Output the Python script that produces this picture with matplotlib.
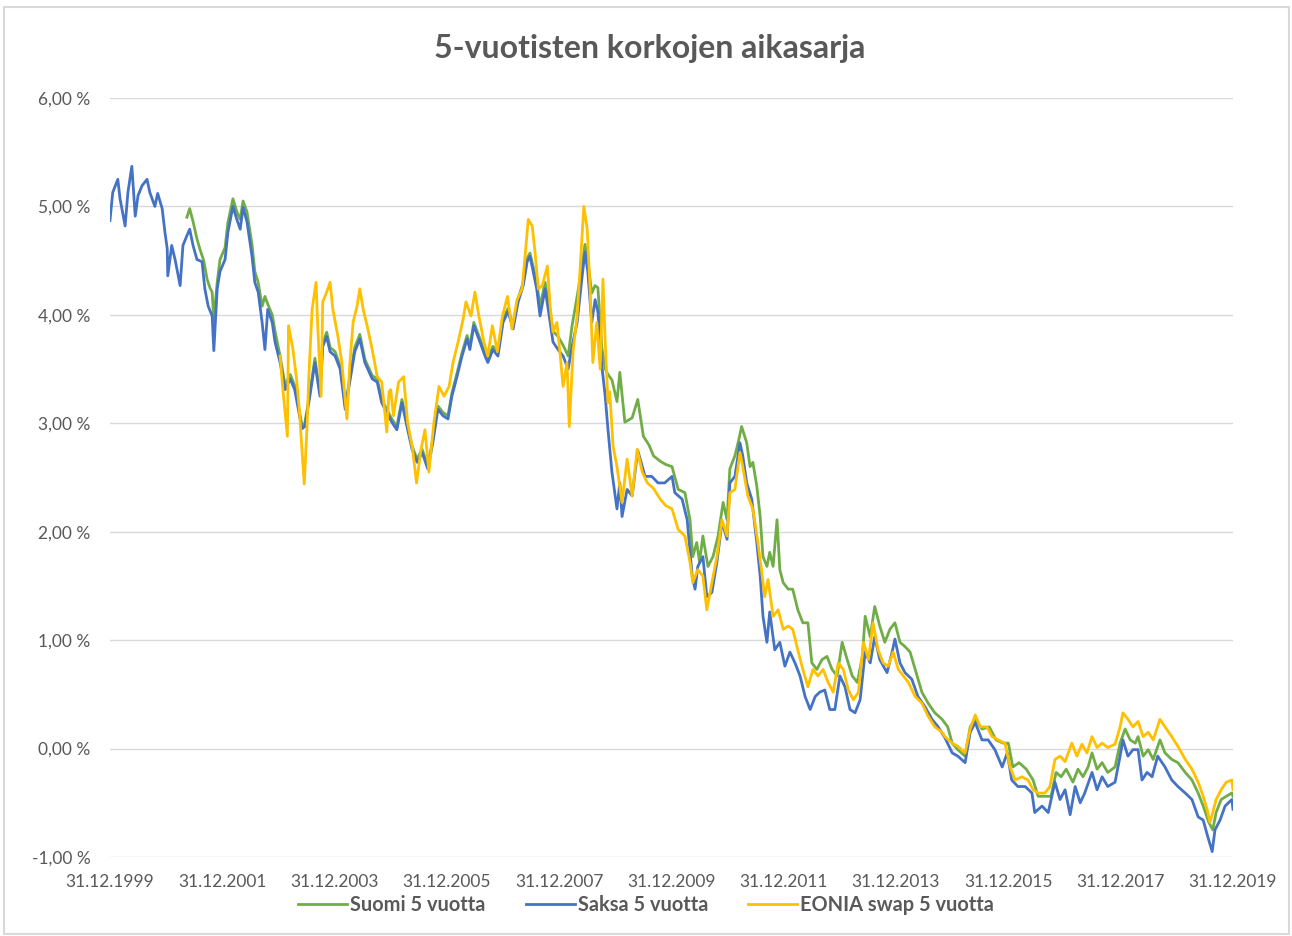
import matplotlib
matplotlib.use("Agg")
import matplotlib.pyplot as plt
from matplotlib.patches import Rectangle

# vuodet desimaalilukuina, arvot prosentteina
saksa_t = [2000.00, 2000.05, 2000.14, 2000.18, 2000.27, 2000.32, 2000.39, 2000.45, 2000.50, 2000.57,
           2000.66, 2000.71, 2000.80, 2000.85, 2000.93, 2000.98, 2001.02, 2001.03, 2001.10, 2001.16,
           2001.25, 2001.30, 2001.37, 2001.42, 2001.48, 2001.55, 2001.64, 2001.69, 2001.75, 2001.82,
           2001.85, 2001.91, 2001.96, 2002.05, 2002.10, 2002.19, 2002.26, 2002.32, 2002.37, 2002.44,
           2002.53, 2002.58, 2002.64, 2002.71, 2002.76, 2002.81, 2002.89, 2002.94, 2003.03, 2003.12,
           2003.21, 2003.29, 2003.42, 2003.47, 2003.56, 2003.65, 2003.74, 2003.79, 2003.86, 2003.92,
           2004.01, 2004.10, 2004.19, 2004.27, 2004.36, 2004.45, 2004.54, 2004.67, 2004.76, 2004.84,
           2004.93, 2005.02, 2005.11, 2005.20, 2005.29, 2005.38, 2005.47, 2005.56, 2005.66, 2005.75,
           2005.84, 2005.93, 2006.02, 2006.09, 2006.18, 2006.27, 2006.36, 2006.41, 2006.48, 2006.59,
           2006.68, 2006.73, 2006.82, 2006.91, 2007.00, 2007.09, 2007.18, 2007.27, 2007.36, 2007.43,
           2007.48, 2007.53, 2007.60, 2007.66, 2007.75, 2007.84, 2007.89, 2007.98, 2008.07, 2008.16,
           2008.23, 2008.32, 2008.41, 2008.46, 2008.51, 2008.58, 2008.64, 2008.69, 2008.76, 2008.82,
           2008.87, 2008.94, 2009.03, 2009.08, 2009.12, 2009.21, 2009.30, 2009.40, 2009.53, 2009.65,
           2009.76, 2009.88, 2010.01, 2010.06, 2010.19, 2010.28, 2010.37, 2010.42, 2010.47, 2010.56,
           2010.63, 2010.72, 2010.81, 2010.90, 2010.99, 2011.04, 2011.13, 2011.22, 2011.27, 2011.34,
           2011.43, 2011.52, 2011.58, 2011.63, 2011.70, 2011.75, 2011.84, 2011.93, 2012.02, 2012.11,
           2012.20, 2012.29, 2012.38, 2012.47, 2012.56, 2012.64, 2012.73, 2012.82, 2012.91, 2013.00,
           2013.09, 2013.18, 2013.27, 2013.36, 2013.45, 2013.54, 2013.62, 2013.71, 2013.84, 2013.93,
           2013.98, 2014.07, 2014.16, 2014.28, 2014.39, 2014.51, 2014.64, 2014.75, 2014.87, 2015.00,
           2015.10, 2015.23, 2015.32, 2015.41, 2015.53, 2015.64, 2015.76, 2015.89, 2015.98, 2016.06,
           2016.17, 2016.30, 2016.42, 2016.47, 2016.60, 2016.71, 2016.83, 2016.92, 2017.01, 2017.10,
           2017.19, 2017.28, 2017.36, 2017.49, 2017.58, 2017.67, 2017.77, 2017.90, 2017.99, 2018.04,
           2018.13, 2018.22, 2018.31, 2018.38, 2018.47, 2018.56, 2018.66, 2018.79, 2018.91, 2019.02,
           2019.15, 2019.27, 2019.38, 2019.47, 2019.55, 2019.63, 2019.68, 2019.77, 2019.86, 2019.98,
           2020.00]
saksa = [4.87, 5.13, 5.25, 5.07, 4.82, 5.13, 5.37, 4.91, 5.10, 5.19,
         5.25, 5.13, 5.00, 5.12, 4.98, 4.76, 4.61, 4.36, 4.64, 4.51,
         4.27, 4.64, 4.73, 4.79, 4.64, 4.51, 4.49, 4.24, 4.08, 3.99,
         3.67, 4.24, 4.40, 4.51, 4.76, 5.00, 4.88, 4.79, 4.99, 4.86,
         4.54, 4.30, 4.21, 3.93, 3.68, 4.05, 3.93, 3.75, 3.56, 3.31,
         3.41, 3.31, 2.95, 2.97, 3.25, 3.56, 3.25, 3.71, 3.80, 3.66,
         3.62, 3.50, 3.13, 3.38, 3.66, 3.78, 3.56, 3.41, 3.38, 3.19,
         3.10, 3.01, 2.94, 3.19, 2.97, 2.76, 2.64, 2.73, 2.58, 2.82,
         3.13, 3.07, 3.04, 3.25, 3.43, 3.62, 3.78, 3.68, 3.90, 3.75,
         3.62, 3.56, 3.68, 3.62, 3.93, 4.03, 3.87, 4.12, 4.27, 4.49,
         4.54, 4.42, 4.24, 3.99, 4.24, 3.93, 3.75, 3.68, 3.62, 3.50,
         3.71, 3.93, 4.36, 4.58, 4.40, 3.93, 4.14, 4.03, 3.53, 3.25,
         2.94, 2.55, 2.21, 2.45, 2.14, 2.39, 2.33, 2.75, 2.51, 2.51,
         2.45, 2.45, 2.51, 2.36, 2.30, 2.11, 1.59, 1.47, 1.68, 1.77,
         1.40, 1.44, 1.72, 2.09, 1.93, 2.45, 2.51, 2.82, 2.70, 2.45,
         2.30, 1.90, 1.59, 1.22, 0.98, 1.26, 0.91, 0.98, 0.76, 0.89,
         0.79, 0.67, 0.48, 0.36, 0.48, 0.52, 0.54, 0.36, 0.36, 0.67,
         0.57, 0.36, 0.33, 0.45, 0.89, 0.79, 1.03, 0.82, 0.70, 0.89,
         1.01, 0.79, 0.70, 0.64, 0.48, 0.39, 0.27, 0.20, 0.10, -0.04,
         -0.07, -0.13, 0.15, 0.24, 0.08, 0.08, -0.01, -0.17, -0.04, -0.29,
         -0.35, -0.35, -0.41, -0.59, -0.53, -0.59, -0.31, -0.47, -0.38, -0.61,
         -0.35, -0.50, -0.41, -0.22, -0.38, -0.26, -0.35, -0.31, -0.07, 0.08,
         -0.07, -0.01, -0.01, -0.29, -0.22, -0.26, -0.07, -0.17, -0.29, -0.35,
         -0.41, -0.47, -0.63, -0.66, -0.81, -0.95, -0.75, -0.66, -0.53, -0.47,
         -0.56]

suomi_t = [2001.37, 2001.42, 2001.48, 2001.55, 2001.60, 2001.67, 2001.73, 2001.78, 2001.82, 2001.85,
           2001.91, 2001.96, 2002.05, 2002.10, 2002.19, 2002.26, 2002.32, 2002.37, 2002.44, 2002.53,
           2002.58, 2002.64, 2002.71, 2002.76, 2002.81, 2002.89, 2002.94, 2003.03, 2003.12, 2003.21,
           2003.29, 2003.42, 2003.47, 2003.56, 2003.65, 2003.74, 2003.79, 2003.86, 2003.92, 2004.01,
           2004.10, 2004.19, 2004.27, 2004.36, 2004.45, 2004.54, 2004.67, 2004.76, 2004.84, 2004.93,
           2005.02, 2005.11, 2005.20, 2005.29, 2005.38, 2005.47, 2005.56, 2005.66, 2005.75, 2005.84,
           2005.93, 2006.02, 2006.09, 2006.18, 2006.27, 2006.36, 2006.41, 2006.48, 2006.59, 2006.68,
           2006.73, 2006.82, 2006.91, 2007.00, 2007.09, 2007.18, 2007.27, 2007.36, 2007.43, 2007.48,
           2007.53, 2007.60, 2007.66, 2007.75, 2007.84, 2007.89, 2007.98, 2008.07, 2008.16, 2008.23,
           2008.32, 2008.41, 2008.46, 2008.51, 2008.58, 2008.64, 2008.69, 2008.76, 2008.82, 2008.87,
           2008.94, 2009.03, 2009.08, 2009.17, 2009.30, 2009.40, 2009.50, 2009.60, 2009.68, 2009.80,
           2009.90, 2010.01, 2010.12, 2010.24, 2010.33, 2010.38, 2010.45, 2010.50, 2010.56, 2010.65,
           2010.74, 2010.83, 2010.92, 2010.99, 2011.04, 2011.13, 2011.20, 2011.25, 2011.34, 2011.40,
           2011.45, 2011.52, 2011.58, 2011.63, 2011.70, 2011.75, 2011.81, 2011.88, 2011.93, 2011.99,
           2012.08, 2012.16, 2012.25, 2012.34, 2012.43, 2012.50, 2012.59, 2012.68, 2012.77, 2012.86,
           2012.95, 2013.04, 2013.13, 2013.22, 2013.31, 2013.40, 2013.45, 2013.54, 2013.62, 2013.71,
           2013.80, 2013.89, 2013.98, 2014.07, 2014.16, 2014.25, 2014.34, 2014.46, 2014.57, 2014.69,
           2014.82, 2014.92, 2015.00, 2015.10, 2015.23, 2015.32, 2015.41, 2015.53, 2015.66, 2015.78,
           2015.91, 2016.00, 2016.08, 2016.19, 2016.32, 2016.44, 2016.53, 2016.64, 2016.76, 2016.85,
           2016.94, 2017.03, 2017.15, 2017.24, 2017.33, 2017.42, 2017.49, 2017.58, 2017.67, 2017.77,
           2017.90, 2017.99, 2018.08, 2018.17, 2018.26, 2018.31, 2018.40, 2018.49, 2018.58, 2018.70,
           2018.79, 2018.91, 2019.02, 2019.15, 2019.27, 2019.38, 2019.47, 2019.57, 2019.64, 2019.70,
           2019.79, 2019.88, 2019.98, 2020.00]
suomi = [4.90, 4.98, 4.86, 4.70, 4.61, 4.50, 4.33, 4.25, 4.21, 3.95,
         4.30, 4.51, 4.62, 4.85, 5.07, 4.95, 4.88, 5.05, 4.95, 4.65,
         4.40, 4.30, 4.08, 4.17, 4.10, 4.00, 3.85, 3.62, 3.35, 3.45,
         3.35, 2.98, 3.00, 3.28, 3.60, 3.28, 3.74, 3.84, 3.70, 3.66,
         3.53, 3.16, 3.41, 3.70, 3.82, 3.59, 3.44, 3.41, 3.22, 3.13,
         3.04, 2.97, 3.22, 3.00, 2.79, 2.67, 2.76, 2.61, 2.85, 3.16,
         3.10, 3.07, 3.28, 3.46, 3.65, 3.81, 3.71, 3.93, 3.78, 3.65,
         3.59, 3.71, 3.65, 3.96, 4.06, 3.90, 4.15, 4.30, 4.52, 4.57,
         4.46, 4.30, 4.08, 4.30, 4.02, 3.85, 3.80, 3.72, 3.62, 3.90,
         4.17, 4.45, 4.65, 4.50, 4.20, 4.27, 4.25, 3.70, 3.50, 3.45,
         3.40, 3.20, 3.47, 3.01, 3.05, 3.22, 2.88, 2.80, 2.70, 2.65,
         2.62, 2.60, 2.39, 2.36, 2.11, 1.77, 1.90, 1.72, 1.96, 1.68,
         1.77, 1.96, 2.27, 2.11, 2.58, 2.70, 2.85, 2.97, 2.82, 2.60,
         2.64, 2.42, 2.14, 1.77, 1.68, 1.81, 1.68, 2.11, 1.65, 1.53,
         1.47, 1.47, 1.28, 1.16, 1.16, 0.79, 0.73, 0.82, 0.85, 0.73,
         0.67, 0.98, 0.82, 0.67, 0.61, 0.85, 1.22, 1.03, 1.31, 1.13,
         0.98, 1.10, 1.16, 0.98, 0.94, 0.89, 0.73, 0.52, 0.42, 0.33,
         0.27, 0.20, 0.05, -0.01, -0.07, 0.20, 0.27, 0.18, 0.20, 0.08,
         0.05, 0.05, -0.17, -0.13, -0.19, -0.29, -0.44, -0.44, -0.44, -0.22,
         -0.26, -0.19, -0.31, -0.19, -0.26, -0.17, -0.04, -0.19, -0.13, -0.22,
         -0.17, 0.05, 0.18, 0.08, 0.05, 0.11, -0.07, -0.01, -0.10, 0.08,
         -0.04, -0.10, -0.13, -0.22, -0.29, -0.41, -0.53, -0.68, -0.75, -0.59,
         -0.47, -0.44, -0.41, -0.44]

eonia_t = [2003.03, 2003.08, 2003.16, 2003.18, 2003.26, 2003.33, 2003.38, 2003.46, 2003.51, 2003.54,
           2003.60, 2003.67, 2003.70, 2003.76, 2003.79, 2003.86, 2003.92, 2003.97, 2004.06, 2004.13,
           2004.22, 2004.27, 2004.33, 2004.40, 2004.45, 2004.51, 2004.58, 2004.67, 2004.76, 2004.84,
           2004.93, 2004.97, 2005.00, 2005.05, 2005.14, 2005.23, 2005.30, 2005.39, 2005.46, 2005.54,
           2005.61, 2005.68, 2005.77, 2005.86, 2005.95, 2006.04, 2006.11, 2006.20, 2006.29, 2006.34,
           2006.43, 2006.50, 2006.57, 2006.66, 2006.73, 2006.81, 2006.90, 2006.99, 2007.08, 2007.16,
           2007.25, 2007.34, 2007.40, 2007.45, 2007.52, 2007.57, 2007.63, 2007.70, 2007.79, 2007.84,
           2007.89, 2007.96, 2008.02, 2008.07, 2008.14, 2008.18, 2008.25, 2008.32, 2008.37, 2008.44,
           2008.50, 2008.55, 2008.60, 2008.67, 2008.73, 2008.78, 2008.82, 2008.87, 2008.90, 2008.96,
           2009.03, 2009.12, 2009.21, 2009.30, 2009.39, 2009.48, 2009.57, 2009.68, 2009.80, 2009.90,
           2010.01, 2010.12, 2010.24, 2010.33, 2010.38, 2010.47, 2010.56, 2010.63, 2010.72, 2010.81,
           2010.90, 2010.99, 2011.04, 2011.13, 2011.22, 2011.27, 2011.36, 2011.45, 2011.54, 2011.61,
           2011.66, 2011.72, 2011.81, 2011.90, 2011.99, 2012.08, 2012.16, 2012.25, 2012.34, 2012.43,
           2012.52, 2012.61, 2012.70, 2012.79, 2012.88, 2012.97, 2013.06, 2013.15, 2013.24, 2013.33,
           2013.42, 2013.51, 2013.59, 2013.68, 2013.77, 2013.86, 2013.95, 2014.04, 2014.13, 2014.22,
           2014.34, 2014.46, 2014.57, 2014.69, 2014.82, 2014.87, 2015.00, 2015.10, 2015.23, 2015.32,
           2015.41, 2015.50, 2015.62, 2015.71, 2015.82, 2015.94, 2016.03, 2016.12, 2016.24, 2016.35,
           2016.44, 2016.53, 2016.65, 2016.74, 2016.83, 2016.92, 2017.01, 2017.13, 2017.22, 2017.31,
           2017.40, 2017.49, 2017.58, 2017.67, 2017.77, 2017.90, 2017.99, 2018.04, 2018.13, 2018.22,
           2018.31, 2018.40, 2018.49, 2018.58, 2018.70, 2018.79, 2018.91, 2019.02, 2019.15, 2019.27,
           2019.38, 2019.47, 2019.54, 2019.59, 2019.64, 2019.70, 2019.79, 2019.88, 2019.98, 2020.00]
eonia = [3.62, 3.31, 2.88, 3.90, 3.68, 3.38, 3.07, 2.44, 2.97, 3.41,
         4.05, 4.30, 3.90, 3.25, 4.12, 4.21, 4.30, 4.05, 3.80, 3.56,
         3.04, 3.53, 3.93, 4.08, 4.24, 4.05, 3.90, 3.68, 3.43, 3.38,
         2.92, 3.29, 3.31, 3.07, 3.38, 3.43, 3.01, 2.76, 2.45, 2.76,
         2.94, 2.55, 3.01, 3.34, 3.25, 3.34, 3.56, 3.75, 3.96, 4.12,
         3.99, 4.21, 3.99, 3.75, 3.62, 3.90, 3.66, 3.99, 4.17, 3.87,
         4.14, 4.24, 4.58, 4.88, 4.82, 4.58, 4.24, 4.27, 4.45, 4.08,
         3.84, 3.93, 3.62, 3.34, 3.56, 2.97, 3.68, 3.99, 4.40, 5.00,
         4.79, 4.24, 3.56, 3.93, 3.50, 4.33, 3.75, 3.19, 3.29, 2.79,
         2.60, 2.27, 2.67, 2.33, 2.76, 2.55, 2.45, 2.40, 2.30, 2.24,
         2.21, 2.02, 1.96, 1.72, 1.53, 1.65, 1.59, 1.28, 1.53, 1.77,
         2.11, 1.96, 2.36, 2.39, 2.73, 2.60, 2.33, 2.21, 1.90, 1.62,
         1.40, 1.56, 1.22, 1.28, 1.10, 1.13, 1.10, 0.91, 0.73, 0.57,
         0.73, 0.67, 0.73, 0.61, 0.52, 0.79, 0.73, 0.54, 0.45, 0.52,
         0.98, 0.82, 1.16, 0.91, 0.79, 0.76, 0.89, 0.73, 0.67, 0.61,
         0.48, 0.42, 0.30, 0.20, 0.15, 0.11, 0.05, 0.02, -0.04, 0.18,
         0.31, 0.20, 0.20, 0.11, 0.08, 0.05, -0.17, -0.29, -0.26, -0.29,
         -0.38, -0.41, -0.41, -0.35, -0.10, -0.07, -0.12, 0.05, -0.07, 0.04,
         -0.04, 0.11, 0.01, 0.05, 0.01, 0.04, 0.20, 0.33, 0.27, 0.20,
         0.25, 0.11, 0.15, 0.08, 0.27, 0.20, 0.11, 0.02, -0.10, -0.19,
         -0.31, -0.44, -0.56, -0.68, -0.59, -0.47, -0.38, -0.31, -0.29, -0.38]

x_ticks = [2000, 2002, 2004, 2006, 2008, 2010, 2012, 2014, 2016, 2018, 2020]
x_labels = ["31.12.1999", "31.12.2001", "31.12.2003", "31.12.2005", "31.12.2007",
            "31.12.2009", "31.12.2011", "31.12.2013", "31.12.2015", "31.12.2017", "31.12.2019"]
y_ticks = [-1, 0, 1, 2, 3, 4, 5, 6]

plt.rcParams['font.family'] = ['Lato', 'DejaVu Sans']
grey = "#595959"

fig = plt.figure(figsize=(12.92, 9.36), dpi=100)
fig.patches.append(Rectangle((0.003, 0.002), 0.995, 0.991, transform=fig.transFigure,
                             fill=False, edgecolor="#d9d9d9", linewidth=1.5))
ax = fig.add_axes([0.0851, 0.0844, 0.8692, 0.8109])

ax.plot(suomi_t, suomi, color="#70AD47", lw=2.0, label="Suomi 5 vuotta")
ax.plot(saksa_t, saksa, color="#4472C4", lw=2.0, label="Saksa 5 vuotta")
ax.plot(eonia_t, eonia, color="#FFC000", lw=2.0, label="EONIA swap 5 vuotta")

ax.set_xlim(2000, 2020)
ax.set_ylim(-1, 6)
ax.set_xticks(x_ticks)
ax.set_xticklabels(x_labels)
ax.set_yticks(y_ticks)
ax.set_yticklabels([("%.2f" % v).replace(".", ",") + "\u00a0%" for v in y_ticks])
ax.grid(axis="y", color="#d9d9d9", lw=1)
ax.set_axisbelow(True)
for s in ax.spines.values():
    s.set_visible(False)
ax.tick_params(axis="both", length=0, labelsize=12.5, labelcolor=grey)
ax.tick_params(axis="y", pad=14)
ax.tick_params(axis="x", pad=12)

fig.text(0.503, 0.948, "5-vuotisten korkojen aikasarja", ha="center", va="center",
         fontsize=23, fontweight="bold", color=grey)

leg = fig.legend(loc="center", bbox_to_anchor=(0.5, 0.033), ncol=3, frameon=False,
                 fontsize=14.4, handlelength=2.45, handletextpad=0.15, columnspacing=2.0)
for t in leg.get_texts():
    t.set_color(grey)
    t.set_fontweight("bold")

fig.savefig("out.png", dpi=100)
